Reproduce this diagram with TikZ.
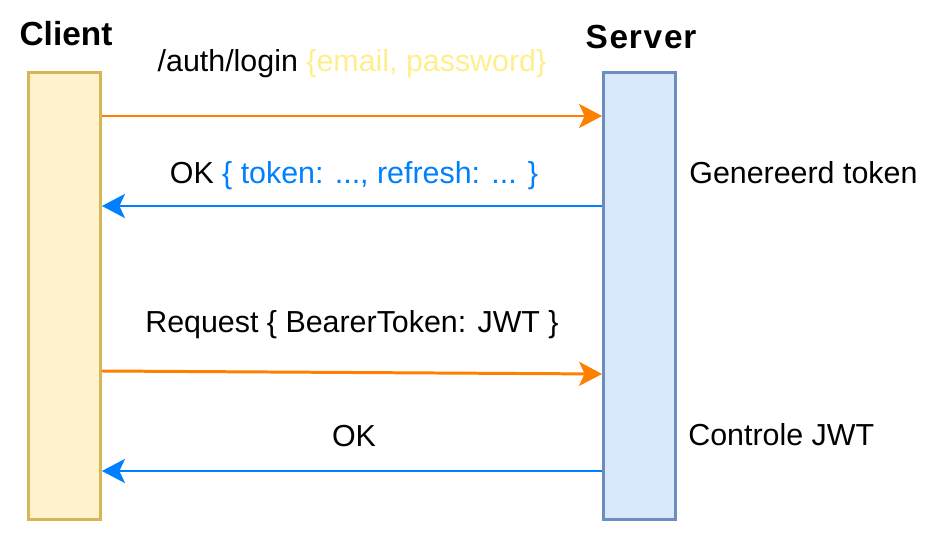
\documentclass[tikz,border=0pt]{standalone}
\usepackage{fontspec}
\setmainfont{Liberation Sans}
\usetikzlibrary{arrows.meta}
\definecolor{clientfill}{HTML}{FFF2CC}
\definecolor{clientline}{HTML}{D6B656}
\definecolor{serverfill}{HTML}{DAE8FC}
\definecolor{serverline}{HTML}{6C8EBF}
\definecolor{reqorange}{HTML}{FF8000}
\definecolor{resblue}{HTML}{007FFF}
\definecolor{pale}{HTML}{FFEE8C}
\tikzset{
  lane/.style={rectangle, line width=1.6pt, minimum width=1.44cm, minimum height=8.94cm},
  msg/.style={line width=1.7pt, -{Stealth[length=0.46cm, width=0.48cm, inset=0.11cm]}},
  txt/.style={font=\fontsize{17.3}{20}\selectfont, inner sep=0pt},
  title/.style={font=\fontsize{19}{22}\selectfont\bfseries, inner sep=0pt}
}
\begin{document}
\begin{tikzpicture}[x=0.02cm, y=-0.02cm]
    \useasboundingbox (0,0) rectangle (938,537);
    \node (client) at (64.5,296) [lane, draw=clientline, fill=clientfill] {};
    \node (server) at (639.5,296) [lane, draw=serverline, fill=serverfill] {};
    \node (clientname) at (66,46) [title, anchor=base] {Client};
    \node (servername) at (641,49) [title, anchor=base] {S\kern1pt e\kern0.5pt r\kern1pt v\kern1pt e\kern0.5pt r};
    \node (login) at (352,72) [txt, anchor=base] {/auth/login \textcolor{pale}{\{email, password\}}};
    \node (tokens) at (354,184) [txt, anchor=base] {OK \textcolor{resblue}{\{ token: ..., refresh: ... \}}};
    \node (gen) at (689,184) [txt, anchor=base west] {Genereerd token};
    \node (request) at (352,333) [txt, anchor=base] {Request \{ BearerToken: JWT \}};
    \node (ok) at (354,446) [txt, anchor=base] {OK};
    \node (check) at (688,445) [txt, anchor=base west] {Controle JWT};
    \draw[msg, reqorange] (client.east |- 0,116) -- (server.west |- 0,116);
    \draw[msg, resblue] (server.west |- 0,206) -- (client.east |- 0,206);
    \draw[msg, reqorange] (client.east |- 0,371) -- (server.west |- 0,374);
    \draw[msg, resblue] (server.west |- 0,471) -- (client.east |- 0,471);
\end{tikzpicture}
\end{document}
